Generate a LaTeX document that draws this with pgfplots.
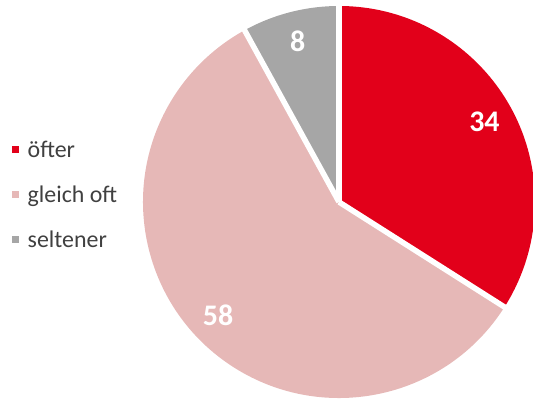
\documentclass[border=0pt]{standalone}
\usepackage{pgfplots}
\pgfplotsset{compat=1.18}
\usepackage{pgfplotstable}
\usetikzlibrary{calc}
\usepackage{fontspec}
\setmainfont{Carlito}

\definecolor{cOft}{HTML}{E2001A}
\definecolor{cGleich}{HTML}{E6B8B7}
\definecolor{cSelten}{HTML}{A6A6A6}
\definecolor{cText}{HTML}{404040}

% share in percent, clockwise from 12 o'clock
\pgfplotstableread{
label value
oefter 34
gleich 58
seltener 8
}\piedata

\begin{document}
\begin{tikzpicture}
\pgfplotstablegetelem{0}{value}\of\piedata \let\vA\pgfplotsretval
\pgfplotstablegetelem{1}{value}\of\piedata \let\vB\pgfplotsretval
\pgfplotstablegetelem{2}{value}\of\piedata \let\vC\pgfplotsretval
\pgfmathsetmacro{\aA}{90}
\pgfmathsetmacro{\aB}{\aA-3.6*\vA}
\pgfmathsetmacro{\aC}{\aB-3.6*\vB}
\pgfmathsetmacro{\aD}{\aC-3.6*\vC}
\pgfmathsetmacro{\mA}{(\aA+\aB)/2}
\pgfmathsetmacro{\mB}{(\aB+\aC)/2}
\pgfmathsetmacro{\mC}{(\aC+\aD)/2}
\def\R{196bp}
\def\L{166bp}
\begin{axis}[
    width=533bp, height=400bp,
    scale only axis,
    xmin=0, xmax=533, ymin=0, ymax=400,
    hide axis,
    clip bounding box=upper bound,
    legend cell align=left,
    legend style={
        at={(axis cs:11.5,260)}, anchor=north west,
        draw=none, fill=none, inner sep=0pt,
        font=\fontsize{24}{28}\selectfont\color{cText},
        row sep=23bp,
        nodes={inner sep=0pt, text height=17bp, text depth=5bp},
        column sep=9bp,
    },
    legend image code/.code={\fill[#1] (0bp,-2bp) rectangle (7bp,5bp);},
]
\path (rel axis cs:0,0) rectangle (rel axis cs:1,1);

\coordinate (c) at (axis cs:339,198);
\fill[cOft]    (c) -- ++(\aA:\R) arc[start angle=\aA, end angle=\aB, radius=\R] -- cycle;
\fill[cGleich] (c) -- ++(\aB:\R) arc[start angle=\aB, end angle=\aC, radius=\R] -- cycle;
\fill[cSelten] (c) -- ++(\aC:\R) arc[start angle=\aC, end angle=\aD, radius=\R] -- cycle;
\draw[white, line width=5.5bp] (c) -- ++(\aA:205bp);
\draw[white, line width=5.5bp] (c) -- ++(\aB:205bp);
\draw[white, line width=5.5bp] (c) -- ++(\aC:205bp);

\node[white, font=\fontsize{30}{32}\selectfont\bfseries] at ($(c)+(\mA:\L)$) {\vA};
\node[white, font=\fontsize{30}{32}\selectfont\bfseries] at ($(c)+(\mB:\L)$) {\vB};
\node[white, font=\fontsize{30}{32}\selectfont\bfseries] at ($(c)+(\mC:\L)$) {\vC};

\addlegendimage{fill=cOft, draw=none}
\addlegendentry{öfter}
\addlegendimage{fill=cGleich, draw=none}
\addlegendentry{gleich oft}
\addlegendimage{fill=cSelten, draw=none}
\addlegendentry{seltener}
\end{axis}
\end{tikzpicture}
\end{document}
